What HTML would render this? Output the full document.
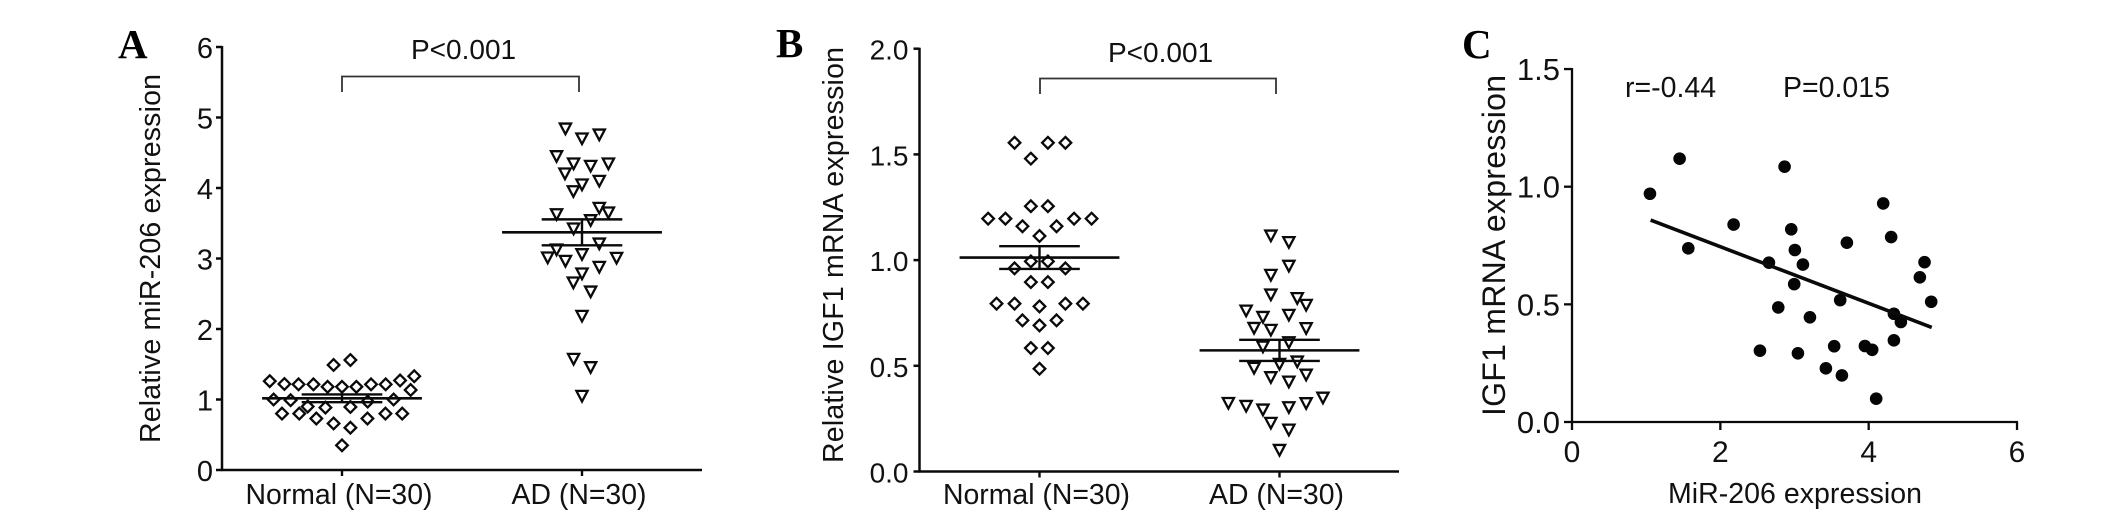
<!DOCTYPE html>
<html lang="en">
<head>
<meta charset="utf-8">
<title>miR-206 and IGF1 expression</title>
<style>
html,body{margin:0;padding:0;background:#fff;width:2126px;height:526px;overflow:hidden}
svg{display:block}
text{font-family:"Liberation Sans",Arial,sans-serif;fill:#111}
.panel-letter{font-family:"Liberation Serif","Times New Roman",serif;font-weight:bold;font-size:41px;fill:#000}
</style>
</head>
<body>
<svg id="figure" xmlns="http://www.w3.org/2000/svg" width="2126" height="526" viewBox="0 0 2126 526">
  <rect width="2126" height="526" fill="#fff"/>

  <g id="panel-a">
    <text class="panel-letter" x="118" y="58">A</text>
    <text font-size="28.5" transform="translate(160 443) rotate(-90)" textLength="369">Relative miR-206 expression</text>
    <text font-size="28" x="411" y="59">P&lt;0.001</text>
    <path d="M342 92V76.500H579V92" fill="none" stroke="#333" stroke-width="1.800"/>
  </g>

  <g id="panel-b">
    <text class="panel-letter" x="776" y="57">B</text>
    <text font-size="28.5" transform="translate(843 463) rotate(-90)" textLength="416">Relative IGF1 mRNA expression</text>
    <text font-size="28" x="1108" y="62">P&lt;0.001</text>
    <path d="M1040 94V78.500H1276V94" fill="none" stroke="#333" stroke-width="1.800"/>
  </g>

  <g id="panel-c">
    <text class="panel-letter" x="1462" y="58">C</text>
    <text font-size="32" transform="translate(1505 416) rotate(-90)" textLength="341">IGF1 mRNA expression</text>
    <text font-size="28.5" x="1668" y="503" textLength="254">MiR-206 expression</text>
    <text font-size="28.5" x="1625" y="97">r=-0.44</text>
    <text font-size="28.5" x="1783" y="97">P=0.015</text>
  </g>
</svg>

<script>
// ---------- Panel A data ----------
const categoriesAB = ["Normal (N=30)", "AD (N=30)"];
const yTicksA = [0, 1, 2, 3, 4, 5, 6];
const yTickLabelsA = ["0", "1", "2", "3", "4", "5", "6"];
const normalA = [1.56,1.49,1.26,1.22,1.215,1.215,1.18,1.18,1.18,1.215,1.215,1.27,1.33,1.135,1.0,0.99,0.90,0.885,0.894,0.97,1.0,0.80,0.80,0.73,0.73,0.80,0.80,0.66,0.60,0.35];
const normalASwarm = [0.035,-0.035,-0.301,-0.240,-0.181,-0.119,-0.060,0,0.060,0.121,0.182,0.242,0.301,0.286,-0.285,-0.214,-0.143,-0.069,0.035,0.107,0.215,-0.25,-0.178,-0.107,0.106,0.181,0.251,-0.035,0.035,0];
const adA = [4.846,4.705,4.761,4.454,4.35,4.317,4.35,4.208,4.052,4.104,3.957,3.721,3.655,3.631,3.546,3.428,3.215,3.13,3.017,2.969,3.064,3.012,2.884,2.79,2.662,2.534,2.189,1.579,1.461,1.054];
const adASwarm = [-0.069,0,0.072,-0.106,-0.035,0.036,0.11,-0.071,0,0.072,-0.036,0.072,0.11,-0.106,0.036,-0.035,0.072,-0.106,-0.143,-0.069,0,0.144,0.072,0,-0.036,0.036,0,-0.035,0.036,0];
const meansA = [1.017, 3.371];
const semsA = [0.055, 0.184];

// ---------- Panel B data ----------
const yTicksB = [0, 0.5, 1, 1.5, 2];
const yTickLabelsB = ["0.0", "0.5", "1.0", "1.5", "2.0"];
const normalB = [1.555,1.555,1.555,1.48,1.255,1.255,1.196,1.196,1.196,1.196,1.16,1.16,1.114,0.994,0.994,0.961,0.961,0.896,0.896,0.794,0.794,0.794,0.794,0.781,0.715,0.715,0.691,0.584,0.584,0.486];
const normalBSwarm = [-0.104,0.035,0.108,-0.036,-0.036,0.035,-0.214,-0.142,0.144,0.217,-0.071,0.071,0,-0.036,0.035,-0.104,0.108,-0.036,0.035,-0.179,-0.104,0.108,0.181,0,-0.071,0.071,0,-0.036,0.035,0];
const adB = [1.117,1.086,0.974,0.931,0.838,0.821,0.789,0.762,0.732,0.742,0.68,0.671,0.679,0.612,0.592,0.521,0.51,0.491,0.459,0.447,0.426,0.35,0.325,0.311,0.294,0.305,0.324,0.231,0.199,0.103];
const adBSwarm = [-0.036,0.039,0.039,-0.036,-0.036,0.074,0.111,-0.139,-0.069,0.039,-0.106,-0.036,0.111,0.039,-0.069,0.074,0,-0.106,0.111,-0.036,0.039,0.181,-0.213,-0.139,-0.069,0.039,0.111,-0.036,0.039,0];
const meansB = [1.012, 0.573];
const semsB = [0.054, 0.05];

// ---------- Panel C data ----------
const xTicksC = [0, 2, 4, 6];
const xTickLabelsC = ["0", "2", "4", "6"];
const yTicksC = [0, 0.5, 1, 1.5];
const yTickLabelsC = ["0.0", "0.5", "1.0", "1.5"];
const mir206C = [1.451,2.866,1.051,4.196,2.179,2.956,4.303,3.706,1.568,3.005,2.655,3.113,4.753,4.69,2.996,4.843,3.616,2.781,3.208,4.34,4.434,4.34,2.534,3.046,3.535,3.949,4.047,3.423,3.639,4.101];
const igf1C = [1.119,1.085,0.970,0.929,0.839,0.819,0.786,0.762,0.738,0.731,0.677,0.669,0.679,0.615,0.586,0.511,0.518,0.487,0.445,0.460,0.425,0.347,0.303,0.292,0.322,0.323,0.307,0.228,0.198,0.099];
const fitXC = [1.06, 4.85];
const fitYC = [0.858, 0.402];

// ---------- Axis functions ----------
const xA = c => 342 + 240 * c;
const yA = v => 470 - 70.5 * v;
const xB = c => 1039.500 + 240 * c;
const yB = v => 471.500 - 211.400 * v;
const xC = v => 1572 + 74.17 * v;
const yC = v => 422 - 235.3 * v;

const NS = "http://www.w3.org/2000/svg";
const INK = "#0a0a0a";

function make(parent, tag, attrs) {
  const el = document.createElementNS(NS, tag);
  for (const k in attrs) el.setAttribute(k, attrs[k]);
  parent.appendChild(el);
  return el;
}

function drawLine(parent, name, x1, y1, x2, y2, width) {
  const el = make(parent, "line", { x1, y1, x2, y2, stroke: INK, "stroke-width": width });
  
  
  return el;
}

function drawLabel(parent, name, str, x, y, size, anchor) {
  const el = make(parent, "text", { x, y, "font-size": size, "text-anchor": anchor });
  el.textContent = str;
  
  
  return el;
}

function drawYAxis(parent, suffix, axisX, ticks, labels, yFn, opts) {
  const top = yFn(ticks[ticks.length - 1]);
  const bottom = yFn(ticks[0]);
  drawLine(parent, "y-axis-" + suffix, axisX, top - 1, axisX, bottom + 1, opts.width);
  ticks.forEach((t, i) => {
    drawLine(parent, "y-tick-" + suffix, axisX - opts.tick, yFn(t), axisX, yFn(t), opts.width);
    drawLabel(parent, "y-tick-label-" + suffix, labels[i], axisX - opts.gap, yFn(t) + opts.dy, opts.size, "end");
  });
}

function drawDiamond(parent, name, cx, cy) {
  const r = 5.8;
  const el = make(parent, "polygon", {
    points: [cx, cy - r, cx + r, cy, cx, cy + r, cx - r, cy].join(" "),
    fill: "none", stroke: INK, "stroke-width": 2.3
  });
  
  
}

function drawTriangle(parent, name, cx, cy) {
  const el = make(parent, "polygon", {
    points: [cx - 5.6, cy - 4.8, cx + 5.6, cy - 4.8, cx, cy + 5.8].join(" "),
    fill: "none", stroke: INK, "stroke-width": 2.3
  });
  
  
}

function drawMeanSem(parent, suffix, c, mean, sem, xFn, yFn) {
  const cx = xFn(c);
  drawLine(parent, "mean-line-" + suffix, xFn(c - 0.333), yFn(mean), xFn(c + 0.333), yFn(mean), 2.6);
  drawLine(parent, "sem-upper-cap-" + suffix, xFn(c - 0.168), yFn(mean + sem), xFn(c + 0.168), yFn(mean + sem), 2.4);
  drawLine(parent, "sem-lower-cap-" + suffix, xFn(c - 0.168), yFn(mean - sem), xFn(c + 0.168), yFn(mean - sem), 2.4);
  drawLine(parent, "sem-stem-" + suffix, cx, yFn(mean + sem), cx, yFn(mean - sem), 2.4);
}

function drawDotPanel(parent, suffix, axisX, axisEnd, ticks, labels, xFn, yFn, groups, means, sems, yOpts) {
  drawYAxis(parent, suffix, axisX, ticks, labels, yFn, yOpts);
  const y0 = yFn(ticks[0]);
  drawLine(parent, "x-axis-" + suffix, axisX - 1, y0, axisEnd, y0, 2.4);
  categoriesAB.forEach((name, c) => {
    drawLine(parent, "x-tick-" + suffix, xFn(c), y0, xFn(c), y0 + 6, 2.4);
    drawLabel(parent, "x-tick-label-" + suffix, name, xFn(c) - 3, 504, 28.4, "middle");
  });
  groups.forEach((g, c) => {
    g.values.forEach((v, i) => {
      g.marker(parent, g.name + "-point", xFn(c + g.swarm[i]), yFn(v));
    });
    drawMeanSem(parent, g.name, c, means[c], sems[c], xFn, yFn);
  });
}

drawDotPanel(document.getElementById("panel-a"), "a", 222, 702, yTicksA, yTickLabelsA, xA, yA, [
  { name: "normal-a", values: normalA, swarm: normalASwarm, marker: drawDiamond },
  { name: "ad-a", values: adA, swarm: adASwarm, marker: drawTriangle }
], meansA, semsA, { width: 2.5, tick: 6, gap: 9, dy: 11, size: 29 });

drawDotPanel(document.getElementById("panel-b"), "b", 919.500, 1399, yTicksB, yTickLabelsB, xB, yB, [
  { name: "normal-b", values: normalB, swarm: normalBSwarm, marker: drawDiamond },
  { name: "ad-b", values: adB, swarm: adBSwarm, marker: drawTriangle }
], meansB, semsB, { width: 2.5, tick: 6, gap: 11, dy: 11, size: 28 });

// Panel C
const panelC = document.getElementById("panel-c");
drawYAxis(panelC, "c", xC(0), yTicksC, yTickLabelsC, yC, { width: 2.3, tick: 8, gap: 12, dy: 11, size: 31 });
drawLine(panelC, "x-axis-c", xC(0) - 1, yC(0), xC(6) + 1, yC(0), 2.3);
xTicksC.forEach((t, i) => {
  drawLine(panelC, "x-tick-c", xC(t), yC(0), xC(t), yC(0) + 8, 2.3);
  drawLabel(panelC, "x-tick-label-c", xTickLabelsC[i], xC(t), 462, 30, "middle");
});
mir206C.forEach((v, i) => {
  const dot = make(panelC, "circle", { cx: xC(v), cy: yC(igf1C[i]), r: 6.3, fill: "#050505" });
  
  
});
drawLine(panelC, "regression-line", xC(fitXC[0]), yC(fitYC[0]), xC(fitXC[1]), yC(fitYC[1]), 3.6);
</script>
</body>
</html>
